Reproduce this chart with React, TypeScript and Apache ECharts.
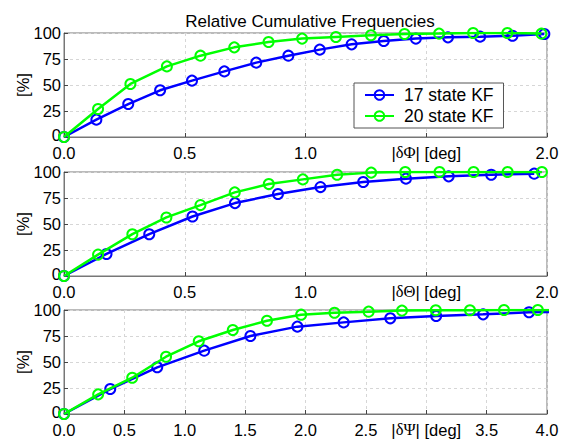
import React, { useEffect, useRef } from "react";
import * as echarts from "echarts";

// ---- Data ----
const seriesNames = ["17 state KF", "20 state KF"];
const xAxisLabels = ["|δΦ| [deg]", "|δΘ| [deg]", "|δΨ| [deg]"];
const xAxisMax = [2, 2, 4];
const xLabelReplacedAt = [1.5, 1.5, 3.0];
const yTicks = [0, 25, 50, 75, 100];

// Panel 1: |δΦ|
const phiX17 = [0, 0.134, 0.266, 0.398, 0.53, 0.664, 0.796, 0.929, 1.059, 1.191, 1.324, 1.457, 1.59, 1.723, 1.857, 1.989];
const phiY17 = [0, 16.7, 31.7, 44.9, 54.2, 63.1, 71.5, 78.2, 84.0, 89.1, 92.3, 94.6, 95.8, 96.5, 97.4, 99.0];
const phiX20 = [0, 0.141, 0.275, 0.426, 0.565, 0.705, 0.847, 0.986, 1.126, 1.271, 1.41, 1.553, 1.694, 1.836, 1.977];
const phiY20 = [0, 26.9, 51.0, 67.9, 78.2, 86.2, 91.3, 94.6, 96.2, 97.8, 99.0, 99.4, 100, 100, 99.4];

// Panel 2: |δΘ|
const thetaX17 = [0, 0.176, 0.353, 0.532, 0.708, 0.886, 1.062, 1.239, 1.416, 1.593, 1.769, 1.947];
const thetaY17 = [0, 21.2, 40.2, 57.2, 70.1, 78.8, 85.5, 90.4, 93.6, 95.8, 97.4, 98.4];
const thetaX20 = [0, 0.141, 0.283, 0.424, 0.565, 0.707, 0.848, 0.989, 1.131, 1.272, 1.413, 1.555, 1.696, 1.837, 1.979];
const thetaY20 = [0, 20.6, 40.2, 56.3, 68.2, 80.4, 88.4, 92.9, 97.4, 99.4, 100, 100, 100, 100, 100];

// Panel 3: |δΨ|
const psiX17 = [0, 0.383, 0.772, 1.161, 1.544, 1.933, 2.316, 2.702, 3.082, 3.471, 3.851];
const psiY17 = [0, 24.0, 44.9, 60.9, 75.0, 84.0, 88.1, 92.0, 94.2, 95.8, 97.8];
const psiX20 = [0, 0.283, 0.565, 0.845, 1.116, 1.398, 1.681, 1.964, 2.24, 2.523, 2.799, 3.079, 3.362, 3.644, 3.924];
const psiY20 = [0, 18.9, 34.9, 55.1, 69.9, 80.8, 89.7, 95.5, 97.4, 98.4, 99.4, 99.7, 99.7, 100, 100];
// the lines continue (without markers) to the right edge
const psiTail17 = [4.1, 98.3];
const psiTail20 = [4.1, 100];

const BLUE = "#0000ff";
const GREEN = "#00ff00";
const FONT = "'Liberation Sans', Arial, Helvetica, sans-serif";
const TICK_FS = 16.5;

function zip(xs: number[], ys: number[]) {
  return xs.map((x, i) => [x, ys[i]]);
}

export default function App() {
  const ref = useRef<HTMLDivElement>(null);

  useEffect(() => {
    if (!ref.current) return;
    const chart = echarts.init(ref.current, null, { renderer: "svg" });

    const grids = [0, 1, 2].map((i) => ({
      left: 64,
      top: [33, 172, 310][i],
      width: 483,
      height: 104,
      show: true,
      borderColor: "#777",
      borderWidth: 1,
      backgroundColor: "#fff",
    }));

    const xAxes = [0, 1, 2].map((i) => ({
      type: "value",
      gridIndex: i,
      min: 0,
      max: xAxisMax[i],
      interval: 0.5,
      axisLine: { show: true, lineStyle: { color: "#777", width: 1 } },
      axisTick: { show: true, inside: true, length: 4, lineStyle: { color: "#444" } },
      splitLine: { show: true, lineStyle: { color: "#d6d6d6", type: [3, 3], width: 1 } },
      axisLabel: {
        color: "#000",
        fontSize: TICK_FS,
        fontFamily: FONT,
        margin: 7,
        formatter: (v: number) =>
          Math.abs(v - xLabelReplacedAt[i]) < 1e-9
            ? xAxisLabels[i].replace(/(δ.)/, "{g|$1}")
            : v.toFixed(1),
        rich: {
          g: { fontFamily: "'Liberation Serif', 'DejaVu Serif', serif", fontSize: TICK_FS, color: "#000" },
        },
      },
    }));

    const yAxes = [0, 1, 2].map((i) => ({
      type: "value",
      gridIndex: i,
      min: yTicks[0],
      max: yTicks[yTicks.length - 1],
      interval: 25,
      name: "[%]",
      nameLocation: "middle",
      nameRotate: 90,
      nameGap: 33,
      nameMoveOverlap: false,
      nameTextStyle: { color: "#000", fontSize: TICK_FS, fontFamily: FONT },
      axisLine: { show: true, lineStyle: { color: "#777", width: 1 } },
      axisTick: { show: true, inside: true, length: 4, lineStyle: { color: "#444" } },
      splitLine: { show: true, lineStyle: { color: "#d6d6d6", type: [3, 3], width: 1 } },
      axisLabel: {
        color: "#000",
        fontSize: TICK_FS,
        fontFamily: FONT,
        margin: 3,
        formatter: (v: number) => (v === 0 ? "{z|0}" : String(v)),
        rich: {
          z: { fontSize: TICK_FS, fontFamily: FONT, color: "#000", padding: [0, 0, 5, 0] },
        },
      },
    }));

    const mk = (name: string, color: string, idx: number, data: any[]) => ({
      type: "line",
      name,
      xAxisIndex: idx,
      yAxisIndex: idx,
      data,
      symbol: "circle",
      symbolSize: 10,
      showAllSymbol: true,
      clip: true,
      color,
      lineStyle: { color, width: 2.5 },
      itemStyle: { color: "rgba(255,255,255,0)", borderColor: color, borderWidth: 2 },
      emphasis: { disabled: true },
      z: color === GREEN ? 3 : 2,
    });

    const series = [
      mk(seriesNames[0], BLUE, 0, zip(phiX17, phiY17)),
      mk(seriesNames[1], GREEN, 0, zip(phiX20, phiY20)),
      mk(seriesNames[0], BLUE, 1, zip(thetaX17, thetaY17)),
      mk(seriesNames[1], GREEN, 1, zip(thetaX20, thetaY20)),
      mk(seriesNames[0], BLUE, 2, [...zip(psiX17, psiY17), { value: psiTail17, symbol: "none" }]),
      mk(seriesNames[1], GREEN, 2, [...zip(psiX20, psiY20), { value: psiTail20, symbol: "none" }]),
    ];

    chart.setOption({
      animation: false,
      backgroundColor: "#fff",
      title: {
        text: "Relative Cumulative Frequencies",
        left: 305,
        textAlign: "center",
        top: 8,
        textStyle: { color: "#000", fontSize: 17, fontWeight: "normal", fontFamily: FONT },
      },
      legend: {
        data: seriesNames,
        left: 354,
        top: 83,
        orient: "vertical",
        backgroundColor: "#fff",
        borderColor: "#555",
        borderWidth: 1,
        borderRadius: 0,
        padding: [3, 10, 3, 10],
        itemGap: 3,
        itemWidth: 29,
        itemHeight: 12,
        textStyle: { color: "#000", fontSize: 17.5, fontFamily: FONT, padding: [0, 0, 0, 5] },
        selectedMode: false,
      },
      grid: grids,
      xAxis: xAxes,
      yAxis: yAxes,
      series,
    } as any);

    return () => chart.dispose();
  }, []);

  return (
    <div
      ref={ref}
      style={{ position: "fixed", left: 0, top: 0, width: 576, height: 440, background: "#fff" }}
    />
  );
}
